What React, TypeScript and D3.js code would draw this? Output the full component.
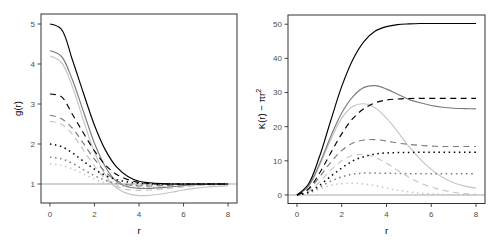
import * as d3 from 'd3';

// r grid (0 to 8, step 0.5)
const R = [0, 0.5, 1, 1.5, 2, 2.5, 3, 3.5, 4, 4.5, 5, 5.5, 6, 6.5, 7, 7.5, 8];

// pair correlation g(r)
const gSolidBlack = [5, 4.88, 4.12, 3.28, 2.47, 1.84, 1.42, 1.19, 1.07, 1.03, 1.01, 1.0, 1.0, 1.0, 1.0, 1.0, 1.0];
const gSolidGrey = [4.33, 4.2, 3.62, 2.82, 2.02, 1.42, 1.06, 0.93, 0.89, 0.89, 0.91, 0.93, 0.96, 0.98, 0.99, 1.0, 1.0];
const gSolidLight = [4.2, 4.05, 3.45, 2.6, 1.8, 1.22, 0.9, 0.76, 0.71, 0.72, 0.75, 0.8, 0.85, 0.89, 0.92, 0.94, 0.96];
const gDashBlack = [3.25, 3.19, 2.75, 2.28, 1.83, 1.47, 1.24, 1.11, 1.04, 1.01, 1.0, 1.0, 1.0, 1.0, 1.0, 1.0, 1.0];
const gDashGrey = [2.72, 2.64, 2.4, 2.02, 1.62, 1.3, 1.08, 0.98, 0.95, 0.95, 0.96, 0.97, 0.985, 0.99, 1.0, 1.0, 1.0];
const gDashLight = [2.57, 2.5, 2.25, 1.85, 1.45, 1.12, 0.94, 0.86, 0.84, 0.85, 0.87, 0.9, 0.93, 0.95, 0.97, 0.98, 0.99];
const gDotBlack = [2.0, 1.94, 1.78, 1.57, 1.37, 1.21, 1.11, 1.05, 1.02, 1.01, 1.0, 1.0, 1.0, 1.0, 1.0, 1.0, 1.0];
const gDotGrey = [1.67, 1.63, 1.52, 1.36, 1.21, 1.09, 1.01, 0.98, 0.97, 0.975, 0.98, 0.99, 0.995, 1.0, 1.0, 1.0, 1.0];
const gDotLight = [1.5, 1.47, 1.38, 1.25, 1.12, 1.02, 0.96, 0.93, 0.92, 0.92, 0.93, 0.95, 0.96, 0.97, 0.98, 0.99, 0.99];

// K(r) - pi r^2
const kSolidBlack = [0, 3.05, 11.1, 21.6, 31.8, 39.7, 45, 48, 49.3, 49.9, 50.1, 50.2, 50.2, 50.2, 50.2, 50.2, 50.2];
const kSolidGrey = [0, 2.5, 9, 17, 24, 28.8, 31.5, 32, 31, 29.5, 28, 27, 26.2, 25.7, 25.4, 25.3, 25.2];
const kSolidLight = [0, 2.4, 8.5, 16, 22.5, 26, 26.7, 25.5, 22.5, 18.5, 14.2, 10.5, 7.5, 5.2, 3.6, 2.6, 2.0];
const kDashBlack = [0, 1.7, 6.3, 12.2, 17.9, 22.4, 25.3, 27, 27.8, 28.1, 28.25, 28.3, 28.3, 28.3, 28.3, 28.3, 28.3];
const kDashGrey = [0, 1.5, 5.2, 9.5, 13, 15.2, 16.1, 16.2, 15.8, 15.2, 14.8, 14.5, 14.3, 14.2, 14.2, 14.2, 14.2];
const kDashLight = [0, 1, 3.8, 7.2, 10, 11.6, 11.8, 11, 9.3, 7.2, 5.2, 3.5, 2.3, 1.4, 0.8, 0.4, 0.2];
const kDotBlack = [0, 0.78, 2.8, 5.4, 7.9, 10, 11.2, 12, 12.3, 12.4, 12.45, 12.5, 12.5, 12.5, 12.5, 12.5, 12.5];
const kDotGrey = [0, 0.6, 2.2, 4, 5.3, 6.1, 6.4, 6.4, 6.35, 6.3, 6.25, 6.2, 6.2, 6.2, 6.2, 6.2, 6.2];
const kDotLight = [0, 0.5, 1.7, 2.8, 3.3, 3.4, 3.2, 2.7, 2.0, 1.4, 0.9, 0.5, 0.3, 0.15, 0.05, 0, 0];

const xTicks = [0, 2, 4, 6, 8];
const gTicks = [1, 2, 3, 4, 5];
const kTicks = [0, 10, 20, 30, 40, 50];

const BLACK = '#000000';
const GREY = '#7a7a7a';
const LIGHT = '#c4c4c4';
const DASH = '6,4.5';
const DOT = '1.5,3.6';

type Series = { values: number[]; color: string; dash: string | null };

const gSeries: Series[] = [
  { values: gDotLight, color: LIGHT, dash: DOT },
  { values: gDashLight, color: LIGHT, dash: DASH },
  { values: gSolidLight, color: LIGHT, dash: null },
  { values: gDotGrey, color: GREY, dash: DOT },
  { values: gDashGrey, color: GREY, dash: DASH },
  { values: gSolidGrey, color: GREY, dash: null },
  { values: gDotBlack, color: BLACK, dash: DOT },
  { values: gDashBlack, color: BLACK, dash: DASH },
  { values: gSolidBlack, color: BLACK, dash: null },
];

const kSeries: Series[] = [
  { values: kDotLight, color: LIGHT, dash: DOT },
  { values: kDashLight, color: LIGHT, dash: DASH },
  { values: kSolidLight, color: LIGHT, dash: null },
  { values: kDotGrey, color: GREY, dash: DOT },
  { values: kDashGrey, color: GREY, dash: DASH },
  { values: kSolidGrey, color: GREY, dash: null },
  { values: kDotBlack, color: BLACK, dash: DOT },
  { values: kDashBlack, color: BLACK, dash: DASH },
  { values: kSolidBlack, color: BLACK, dash: null },
];

const FONT = 'Liberation Sans, Arial, sans-serif';

function Panel({ left, right, top, bottom, yDomain, yTicks, series, refY, title }: {
  left: number; right: number; top: number; bottom: number;
  yDomain: [number, number]; yTicks: number[]; series: Series[]; refY: number;
  title: React.ReactNode;
}) {
  const x = d3.scaleLinear().domain([-0.4, 8.4]).range([left, right]);
  const y = d3.scaleLinear().domain(yDomain).range([bottom, top]);
  const line = d3.line<number>()
    .x((_, i) => x(R[i]))
    .y(d => y(d))
    .curve(d3.curveCatmullRom);

  return (
    <g>
      <line x1={x(-0.4)} x2={x(8.4)} y1={y(refY)} y2={y(refY)} stroke="#a6a6a6" strokeWidth={1.1} />
      {series.map((s, i) => (
        <path key={i} d={line(s.values) || ''} fill="none" stroke={s.color}
          strokeWidth={s.dash === DOT ? 1.5 : 1.15}
          strokeDasharray={s.dash || undefined} />
      ))}
      <rect x={left} y={top} width={right - left} height={bottom - top} fill="none" stroke="#333" strokeWidth={1} />
      {xTicks.map(t => (
        <g key={t}>
          <line x1={x(t)} x2={x(t)} y1={bottom} y2={bottom + 3.5} stroke="#333" strokeWidth={0.9} />
          <text x={x(t)} y={bottom + 13.5} textAnchor="middle" fontSize={8} fill="#4d4d4d" fontFamily={FONT}>{t}</text>
        </g>
      ))}
      {yTicks.map(t => (
        <g key={t}>
          <line x1={left - 3.5} x2={left} y1={y(t)} y2={y(t)} stroke="#333" strokeWidth={0.9} />
          <text x={left - 6} y={y(t) + 2.9} textAnchor="end" fontSize={8} fill="#4d4d4d" fontFamily={FONT}>{t}</text>
        </g>
      ))}
      <text x={(left + right) / 2} y={234} textAnchor="middle" fontSize={9.5} fill="#000" fontFamily={FONT}>r</text>
      {title}
    </g>
  );
}

export default function App() {
  return (
    <svg width={500} height={250} style={{ position: 'fixed', left: 0, top: 0, background: '#fff' }}>
      <rect width={500} height={250} fill="#fff" />
      <Panel left={41} right={237} top={14} bottom={203} yDomain={[0.525, 5.25]} yTicks={gTicks}
        series={gSeries} refY={1}
        title={<text transform="translate(21,108.5) rotate(-90)" textAnchor="middle" fontSize={9.5} fontFamily={FONT}>g(r)</text>} />
      <Panel left={288} right={485} top={15} bottom={203.5} yDomain={[-2.5, 52.7]} yTicks={kTicks}
        series={kSeries} refY={0}
        title={
          <text transform="translate(265,109) rotate(-90)" textAnchor="middle" fontSize={9.5} fontFamily={FONT}>
            K(r) − πr<tspan dy={-3.8} fontSize={7}>2</tspan>
          </text>
        } />
    </svg>
  );
}
